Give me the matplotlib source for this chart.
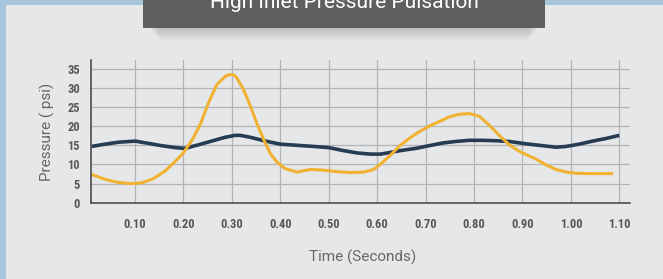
import matplotlib
matplotlib.use("Agg")
import matplotlib.pyplot as plt
from matplotlib.patches import Rectangle
from matplotlib import font_manager

# --- values ---
yellow_t = [0.010, 0.038, 0.065, 0.090, 0.114, 0.138, 0.162, 0.183, 0.199, 0.218,
            0.235, 0.252, 0.269, 0.286, 0.293, 0.300, 0.305, 0.310, 0.324, 0.338,
            0.352, 0.366, 0.379, 0.393, 0.410, 0.435, 0.462, 0.490, 0.517, 0.545,
            0.572, 0.593, 0.607, 0.628, 0.645, 0.666, 0.686, 0.707, 0.728, 0.748,
            0.769, 0.790, 0.811, 0.832, 0.852, 0.873, 0.894, 0.907, 0.928, 0.948,
            0.969, 0.990, 1.010, 1.038, 1.066, 1.087]
yellow_v = [7.4, 6.1, 5.3, 5.0, 5.2, 6.3, 8.3, 10.8, 12.9, 16.4,
            20.6, 26.2, 30.9, 33.0, 33.4, 33.5, 33.3, 32.6, 29.6, 25.3,
            20.6, 16.4, 12.9, 10.6, 8.9, 8.0, 8.7, 8.5, 8.1, 7.9,
            8.0, 8.7, 10.1, 12.5, 14.7, 16.8, 18.5, 20.0, 21.2, 22.4,
            23.1, 23.3, 22.6, 20.2, 17.6, 15.1, 13.4, 12.6, 11.4, 9.9,
            8.7, 8.0, 7.7, 7.6, 7.6, 7.6]

blue_t = [0.010, 0.038, 0.065, 0.100, 0.128, 0.155, 0.183, 0.203, 0.230, 0.258,
          0.286, 0.306, 0.317, 0.338, 0.366, 0.400, 0.435, 0.469, 0.500, 0.531,
          0.559, 0.586, 0.607, 0.625, 0.652, 0.680, 0.707, 0.735, 0.762, 0.790,
          0.818, 0.845, 0.873, 0.907, 0.942, 0.969, 0.990, 1.017, 1.045, 1.073,
          1.100]
blue_v = [14.7, 15.3, 15.8, 16.1, 15.5, 14.9, 14.4, 14.2, 15.1, 16.1,
          17.1, 17.6, 17.6, 17.1, 16.2, 15.3, 15.0, 14.7, 14.4, 13.6,
          13.0, 12.7, 12.7, 13.1, 13.7, 14.2, 14.9, 15.6, 16.0, 16.3,
          16.3, 16.2, 16.0, 15.4, 14.9, 14.5, 14.7, 15.3, 16.1, 16.8,
          17.6]

x_ticks = [0.10, 0.20, 0.30, 0.40, 0.50, 0.60, 0.70, 0.80, 0.90, 1.00, 1.10]
x_labels = ["0.10", "0.20", "0.30", "0.40", "0.50", "0.60", "0.70", "0.80", "0.90", "1.00", "1.10"]
y_ticks = [0, 5, 10, 15, 20, 25, 30, 35]

title = "High Inlet Pressure Pulsation"

# narrow face for the tick numbers, if one is around
names = {f.name for f in font_manager.fontManager.ttflist}
narrow = "DejaVu Sans"
for cand in ["Liberation Sans Narrow", "DejaVu Sans Condensed", "Roboto Condensed"]:
    if cand in names:
        narrow = cand
        break

W, H = 663, 279
fig = plt.figure(figsize=(W / 100, H / 100), dpi=100)
fig.patch.set_facecolor("#e6e7e8")

# blue frame on the left and top
fig.add_artist(Rectangle((0, 0), 6 / W, 1, transform=fig.transFigure, color="#a9c5db", lw=0))
fig.add_artist(Rectangle((0, 1 - 5 / H), 1, 5 / H, transform=fig.transFigure, color="#a9c5db", lw=0))

# soft shadow under the title tab
for i in range(10):
    fig.add_artist(Rectangle(((150 + i) / W, 1 - (29 + i * 1.2) / H), (388 - 2 * i) / W, (29 + i * 1.2) / H,
                             transform=fig.transFigure, color="#808080", alpha=0.045, lw=0))
fig.add_artist(Rectangle((143 / W, 1 - 28 / H), 402 / W, 28 / H, transform=fig.transFigure,
                         color="#5e605f", lw=0))
fig.text(344 / W, 1 - 7.5 / H, title, ha="center", va="baseline", color="white",
         fontsize=15, family="Roboto")

ax = fig.add_axes([91 / W, 1 - 202.7 / H, (629.5 - 91) / W, (202.7 - 60) / H])
ax.set_facecolor("none")

# grid drawn by hand so it sits where the reference has it
for x in x_ticks:
    ax.axvline(x, color="#b3b4b5", lw=0.9, zorder=0.5)
for y in y_ticks[1:]:
    ax.axhline(y, color="#b3b4b5", lw=0.9, zorder=0.5)

ax.plot(blue_t, blue_v, color="#263c53", lw=2.6, solid_capstyle="butt", solid_joinstyle="round")
ax.plot(yellow_t, yellow_v, color="#f1b232", lw=2.2, solid_capstyle="butt", solid_joinstyle="round")

ax.set_xlim(0.009, 1.121)
ax.set_ylim(0, 37.3)
ax.set_xticks(x_ticks)
ax.set_xticklabels(x_labels)
ax.set_yticks(y_ticks)

for s in ["top", "right"]:
    ax.spines[s].set_visible(False)
for s in ["left", "bottom"]:
    ax.spines[s].set_color("#4d4d4d")
    ax.spines[s].set_linewidth(1.2)

ax.tick_params(length=0, colors="#585858", labelsize=9)
ax.tick_params(axis="x", pad=11)
ax.tick_params(axis="y", pad=8)
for lab in ax.get_xticklabels() + ax.get_yticklabels():
    lab.set_family(narrow)
    lab.set_fontstretch("condensed")
    lab.set_fontweight("bold")

ax.set_xlabel("Time (Seconds)", fontsize=11, color="#666666", family="Roboto", va="center")
ax.xaxis.set_label_coords(0.505, -0.38)
ax.set_ylabel("Pressure ( psi)", fontsize=11, color="#666666", family="Roboto", va="center")
ax.yaxis.set_label_coords(-0.082, 0.495)

fig.savefig("out.png", dpi=100, facecolor=fig.get_facecolor())
